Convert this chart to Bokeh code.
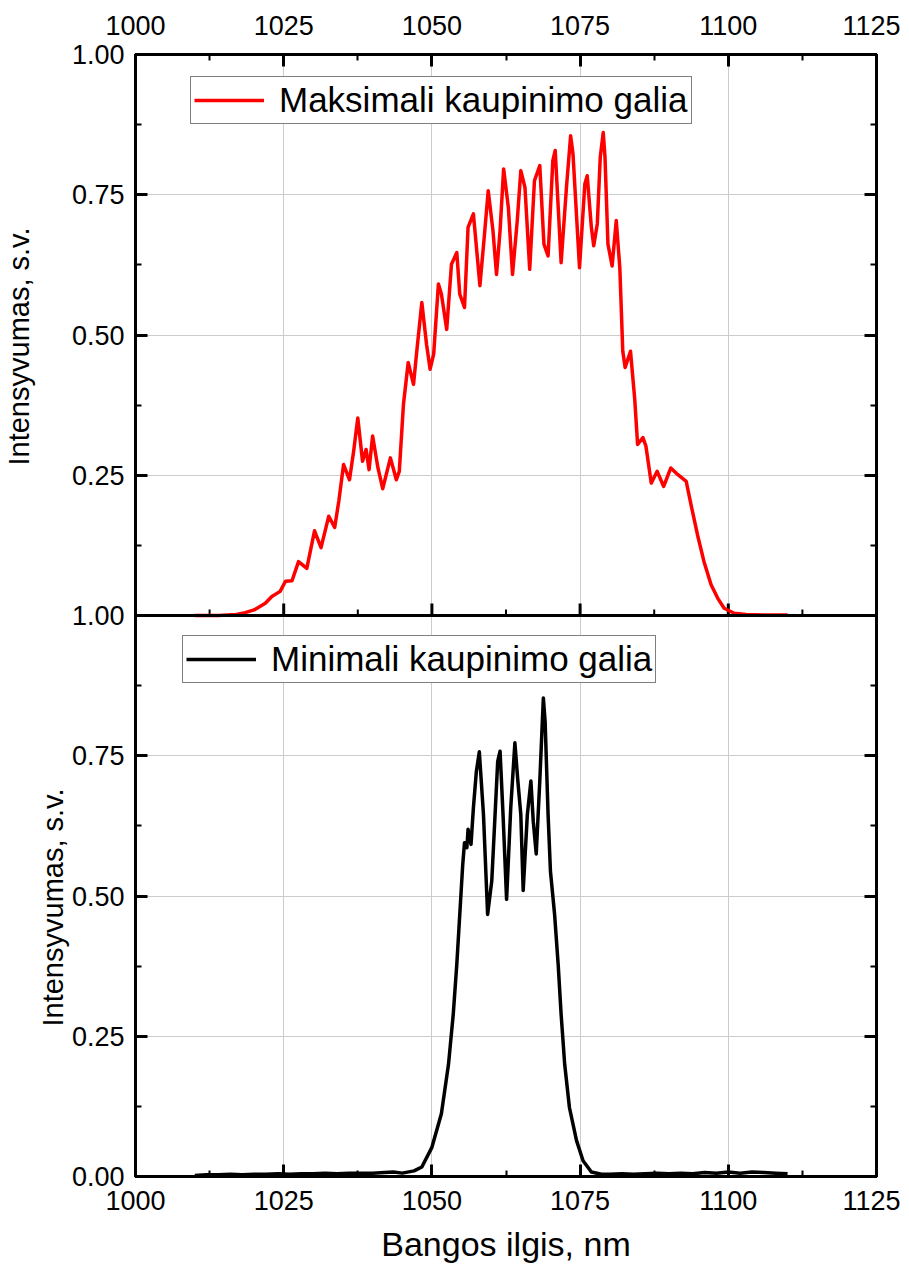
import math
from bokeh.plotting import figure
from bokeh.models import (Range1d, LinearAxis, FixedTicker, Span, Legend, LegendItem, Title)
from bokeh.embed import file_html
from bokeh.resources import INLINE

# ---- data ----
wl_max = [1010.0, 1014.0, 1017.0, 1018.5, 1020.0, 1021.9, 1023.0, 1024.4, 1025.3, 1026.4,
          1027.5, 1028.9, 1030.2, 1031.3, 1032.6, 1033.6, 1034.3, 1035.1, 1036.1, 1036.8,
          1037.5, 1038.3, 1038.9, 1039.4, 1040.0, 1040.9, 1041.7, 1043.0, 1044.0, 1044.5,
          1045.2, 1046.0, 1046.9, 1047.4, 1048.3, 1049.1, 1049.7, 1050.3, 1051.1, 1051.6,
          1052.5, 1053.3, 1054.2, 1054.7, 1055.5, 1056.1, 1057.0, 1058.1, 1058.8, 1059.5,
          1060.3, 1060.9, 1061.5, 1062.1, 1062.9, 1063.6, 1064.4, 1065.0, 1065.7, 1066.5,
          1067.3, 1068.2, 1068.9, 1069.6, 1070.4, 1070.8, 1071.8, 1072.7, 1073.4, 1073.8,
          1074.9, 1075.8, 1076.2, 1076.9, 1077.3, 1077.9, 1078.4, 1078.9, 1079.2, 1079.7,
          1080.4, 1081.1, 1081.7, 1082.2, 1082.6, 1083.5, 1084.2, 1084.7, 1085.6, 1086.1,
          1087.0, 1088.0, 1089.1, 1090.3, 1091.5, 1092.9, 1093.7, 1094.8, 1095.9, 1097.1,
          1098.2, 1099.3, 1101.0, 1103.0, 1106.0, 1110.0]
int_max = [0.0, 0.0, 0.002, 0.005, 0.010, 0.022, 0.034, 0.043, 0.061, 0.062,
           0.096, 0.084, 0.151, 0.121, 0.177, 0.157, 0.204, 0.269, 0.242, 0.293,
           0.352, 0.275, 0.296, 0.260, 0.320, 0.263, 0.226, 0.281, 0.242, 0.257,
           0.376, 0.451, 0.412, 0.466, 0.558, 0.483, 0.439, 0.466, 0.591, 0.573,
           0.510, 0.626, 0.647, 0.573, 0.549, 0.692, 0.716, 0.588, 0.671, 0.757,
           0.686, 0.608, 0.686, 0.796, 0.727, 0.608, 0.704, 0.793, 0.763, 0.617,
           0.775, 0.802, 0.662, 0.641, 0.811, 0.829, 0.629, 0.763, 0.855, 0.823,
           0.620, 0.769, 0.784, 0.692, 0.659, 0.698, 0.817, 0.861, 0.817, 0.662,
           0.623, 0.704, 0.620, 0.471, 0.442, 0.471, 0.388, 0.305, 0.317, 0.302,
           0.236, 0.257, 0.230, 0.263, 0.251, 0.239, 0.198, 0.144, 0.096, 0.055,
           0.031, 0.013, 0.004, 0.002, 0.001, 0.001]

wl_min = [1010.0, 1012.0, 1014.0, 1016.0, 1018.0, 1020.0, 1022.0, 1024.0, 1026.0, 1028.0,
          1030.0, 1032.0, 1034.0, 1036.0, 1038.0, 1040.0, 1042.0, 1043.5, 1045.0, 1047.0,
          1048.3, 1050.0, 1051.6, 1052.8, 1053.6, 1054.2, 1054.7, 1055.2, 1055.5, 1055.9,
          1056.1, 1056.6, 1057.0, 1057.5, 1058.0, 1058.7, 1059.4, 1060.1, 1060.6, 1061.1,
          1061.5, 1062.0, 1062.6, 1063.3, 1064.0, 1064.5, 1065.0, 1065.4, 1066.1, 1066.7,
          1067.1, 1067.6, 1068.2, 1068.8, 1069.1, 1069.6, 1070.0, 1070.7, 1071.3, 1071.8,
          1072.4, 1073.2, 1074.4, 1075.5, 1076.9, 1078.6, 1080.0, 1082.0, 1084.0, 1086.0,
          1088.0, 1090.0, 1092.0, 1094.0, 1096.0, 1098.0, 1100.0, 1102.0, 1104.0, 1106.0,
          1108.0, 1110.0]
int_min = [0.002, 0.003, 0.003, 0.004, 0.003, 0.004, 0.004, 0.005, 0.004, 0.005,
           0.005, 0.006, 0.005, 0.006, 0.006, 0.006, 0.007, 0.008, 0.006, 0.010,
           0.017, 0.052, 0.112, 0.200, 0.289, 0.378, 0.467, 0.556, 0.595, 0.586,
           0.619, 0.592, 0.657, 0.722, 0.757, 0.645, 0.467, 0.527, 0.633, 0.740,
           0.758, 0.645, 0.494, 0.657, 0.773, 0.705, 0.645, 0.510, 0.645, 0.705,
           0.633, 0.575, 0.705, 0.853, 0.811, 0.645, 0.544, 0.467, 0.378, 0.289,
           0.200, 0.123, 0.064, 0.028, 0.008, 0.004, 0.004, 0.005, 0.004, 0.005,
           0.006, 0.005, 0.006, 0.005, 0.007, 0.006, 0.008, 0.006, 0.008, 0.007,
           0.006, 0.005]

x_ticks = [1000, 1025, 1050, 1075, 1100, 1125]
x_minor = [1012.5, 1037.5, 1062.5, 1087.5, 1112.5]
y_ticks = [0.0, 0.25, 0.5, 0.75, 1.0, 1.25, 1.5, 1.75, 2.0]
y_labels = ["0.00", "0.25", "0.50", "0.75", "1.00", "0.25", "0.50", "0.75", "1.00"]
y_minor = [0.125, 0.375, 0.625, 0.875, 1.125, 1.375, 1.625, 1.875]

label_max = "Maksimali kaupinimo galia"
label_min = "Minimali kaupinimo galia"
x_title = "Bangos ilgis, nm"
y_title = "Intensyvumas, s.v."

FONT = "Liberation Sans"

p = figure(width=900, height=1265, x_range=Range1d(1000, 1125), y_range=Range1d(0, 2),
           output_backend="svg", toolbar_location=None,
           min_border_left=133, min_border_right=24, min_border_top=54, min_border_bottom=89)
p.extra_y_ranges = {"top": Range1d(-1, 1)}
p.background_fill_color = "white"
p.border_fill_color = "white"
p.outline_line_color = "black"
p.outline_line_width = 3

xt = FixedTicker(ticks=x_ticks, minor_ticks=x_minor)
yt = FixedTicker(ticks=y_ticks, minor_ticks=y_minor)

def style_axis(ax, show_labels=True):
    ax.axis_line_width = 3
    ax.axis_line_color = "black"
    ax.major_tick_in = 12
    ax.major_tick_out = 0
    ax.minor_tick_in = 6
    ax.minor_tick_out = 0
    ax.major_tick_line_width = 3
    ax.minor_tick_line_width = 2
    ax.major_label_text_font = FONT
    ax.major_label_text_font_size = "27px" if show_labels else "0px"
    ax.major_label_text_color = "black"

p.xaxis.ticker = xt
p.yaxis.ticker = yt
style_axis(p.xaxis[0])
style_axis(p.yaxis[0])
p.xaxis.major_label_standoff = 14
p.yaxis.major_label_standoff = 11
p.yaxis.major_label_overrides = {t: l for t, l in zip(y_ticks, y_labels)}
p.xaxis.axis_label = x_title
p.xaxis.axis_label_text_font = FONT
p.xaxis.axis_label_text_font_size = "34px"
p.xaxis.axis_label_text_font_style = "normal"
p.xaxis.axis_label_text_color = "black"
p.xaxis.axis_label_standoff = 12

ax_top = LinearAxis(ticker=xt)
style_axis(ax_top)
ax_top.major_label_standoff = 20
p.add_layout(ax_top, "above")

ax_right = LinearAxis(ticker=yt)
style_axis(ax_right, show_labels=False)
p.add_layout(ax_right, "right")

p.xgrid.ticker = xt
p.ygrid.ticker = yt
p.grid.grid_line_color = "#cccccc"
p.grid.grid_line_width = 1

# divider between panels and its inward ticks
p.add_layout(Span(location=1.0, dimension="width", line_color="black", line_width=3))
p.ray(x=x_ticks, y=[0] * len(x_ticks), length=12, angle=90, angle_units="deg",
      length_units="screen", line_color="black", line_width=3, y_range_name="top")
p.ray(x=x_minor, y=[0] * len(x_minor), length=6, angle=90, angle_units="deg",
      length_units="screen", line_color="black", line_width=2, y_range_name="top")

r_min = p.line(wl_min, int_min, line_color="black", line_width=3.5, line_join="round")
r_max = p.line(wl_max, int_max, line_color="#ff0000", line_width=3.5, line_join="round",
               y_range_name="top")

def make_legend(item_label, rend, loc):
    lg = Legend(items=[LegendItem(label=item_label, renderers=[rend])], location=loc)
    lg.label_text_font = FONT
    lg.label_text_font_size = "35px"
    lg.label_text_color = "black"
    lg.glyph_width = 70
    lg.label_standoff = 15
    lg.padding = 3
    lg.margin = 0
    lg.spacing = 0
    lg.border_line_color = "black"
    lg.border_line_width = 1
    lg.background_fill_alpha = 1
    return lg

p.add_layout(make_legend(label_max, r_max, (55, 1052)), "center")
p.add_layout(make_legend(label_min, r_min, (47, 493)), "center")

# y titles of the two panels (side-panel titles, rotated)
t_bottom = Title(text=y_title, align="left", offset=150, standoff=0,
                 text_font=FONT, text_font_size="29px", text_font_style="normal",
                 text_color="black")
t_top = Title(text=y_title, align="left", offset=711, standoff=0,
              text_font=FONT, text_font_size="29px", text_font_style="normal",
              text_color="black")
p.add_layout(t_bottom, "left")
p.add_layout(t_top, "left")

open("out.html", "w").write(file_html(p, INLINE))
